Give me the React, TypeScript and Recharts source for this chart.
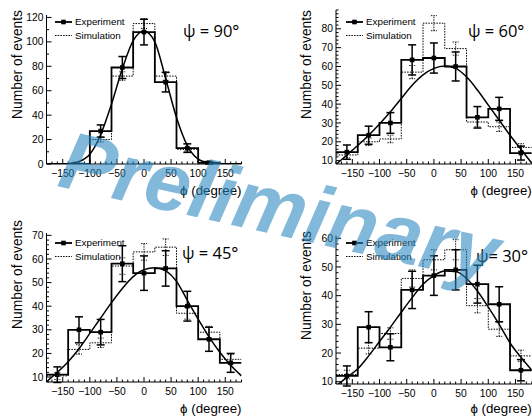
import React from 'react';
import { ComposedChart, Line, Scatter, ErrorBar, XAxis, YAxis, Legend } from 'recharts';

// binning and axis ticks
const BIN_EDGES = [-180, -140, -100, -60, -20, 20, 60, 100, 140, 180];
const BIN_CENTERS = [-160, -120, -80, -40, 0, 40, 80, 120, 160];
const FIT_PHI = [-180, -160, -140, -120, -100, -80, -60, -40, -20, 0, 20, 40, 60, 80, 100, 120, 140, 160, 180];
const X_LABELS = [-150, -100, -50, 0, 50, 100, 150];

// psi = 90
const EXP_90 = [0, 0, 27, 79, 108, 67, 13, 1, 0];
const EXP_ERR_90 = [0, 0, 5, 9, 10.5, 8, 3.5, 1, 0];
const SIM_90 = [0, 0, 20, 72, 115, 72, 12, 1, 0];
const SIM_ERR_90 = [0, 0, 2, 3.5, 4, 3.5, 1.5, 0.5, 0];
const FIT_90 = [null, null, 0.2, 2, 8, 24, 49, 78, 101, 109, 100, 70, 38, 15, 4, 1, 0.2, null, null];
const Y_LABELS_90 = [0, 20, 40, 60, 80, 100, 120];

// psi = 60
const EXP_60 = [14.5, 23.5, 30, 63.5, 64.5, 60, 33, 37.5, 14];
const EXP_ERR_60 = [3.8, 4.8, 5.5, 8, 8, 7.7, 5.7, 6.1, 3.7];
const SIM_60 = [13, 20, 21.5, 57, 83, 69.5, 30.5, 28, 17];
const SIM_ERR_60 = [1.5, 2, 2, 3.5, 4, 3.5, 2.5, 2.5, 2];
const FIT_60 = [8, 13, 18, 23.5, 29.5, 36, 43, 50, 55.5, 59, 60.3, 59, 54.5, 47.5, 39.5, 31.5, 23.5, 16, 8.6];
const Y_LABELS_60 = [10, 20, 30, 40, 50, 60, 70, 80];

// psi = 45
const EXP_45 = [11, 30, 29, 58, 54, 56, 40, 26, 16];
const EXP_ERR_45 = [3.3, 5.5, 5.4, 7.6, 7.3, 7.5, 6.3, 5.1, 4];
const SIM_45 = [10.5, 21.7, 24.5, 57, 63, 65, 37, 29, 17.5];
const SIM_ERR_45 = [1.5, 2, 2, 3.5, 3.5, 3.5, 2.5, 2.5, 2];
const FIT_45 = [8, 12, 16.5, 22, 28.5, 35, 41.5, 47.5, 52.5, 55.5, 56.3, 55, 50.5, 42.5, 34.5, 27, 20.5, 15, 10.5];
const Y_LABELS_45 = [10, 20, 30, 40, 50, 60, 70];

// psi = 30
const EXP_30 = [12, 29, 22, 42, 47, 49, 44, 37, 14];
const EXP_ERR_30 = [3.5, 5.4, 4.7, 6.5, 6.9, 7, 6.6, 6.1, 3.7];
const SIM_30 = [12.5, 21.7, 26.8, 46, 52.5, 56, 36.5, 28.3, 19];
const SIM_ERR_30 = [1.5, 2, 2, 3, 3.5, 3.5, 2.5, 2.5, 2];
const FIT_30 = [8.5, 11.5, 14.5, 19, 24, 29, 34.2, 39.3, 44, 47, 48.6, 48.4, 46, 41.6, 36, 30, 23.5, 18.5, 14];
const Y_LABELS_30 = [10, 20, 30, 40, 50, 60];

const FONT = '"Liberation Sans", Arial, sans-serif';

const range = (a: number, b: number, s: number) => {
  const out: number[] = [];
  for (let v = a; v <= b + 1e-9; v += s) out.push(Math.round(v * 1000) / 1000);
  return out;
};

const histData = (vals: number[]) =>
  BIN_EDGES.map((x, i) => ({ x, y: vals[Math.min(i, vals.length - 1)] }));
const pointData = (vals: number[], errs: number[]) =>
  BIN_CENTERS.map((x, i) => ({ x, y: vals[i], err: errs[i] })).filter((d) => d.y > 0);
const fitData = (vals: (number | null)[]) => FIT_PHI.map((x, i) => ({ x, y: vals[i] }));

const fmt = (v: number) => String(v).replace('-', '\u2212');

// ROOT-like ticks: drawn inwards, long for labelled values
const makeTick = (side: string, labels: number[]) => (props: any) => {
  const { x, y, payload } = props;
  const v = payload.value;
  const major = labels.some((l) => Math.abs(l - v) < 1e-6);
  const len = major ? 5 : 2.5;
  const st = { stroke: '#000', strokeWidth: 1 };
  if (side === 'bottom')
    return (
      <g>
        <line x1={x} y1={y} x2={x} y2={y - len} {...st} />
        {major && (
          <text x={x} y={y + 12.5} textAnchor="middle" fontSize={10.3} fontFamily={FONT} fill="#000">
            {fmt(v)}
          </text>
        )}
      </g>
    );
  if (side === 'top') return <line x1={x} y1={y} x2={x} y2={y + len} {...st} />;
  if (side === 'left')
    return (
      <g>
        <line x1={x} y1={y} x2={x + len} y2={y} {...st} />
        {major && (
          <text x={x - 3} y={y + 3.6} textAnchor="end" fontSize={10.3} fontFamily={FONT} fill="#000">
            {fmt(v)}
          </text>
        )}
      </g>
    );
  return <line x1={x} y1={y} x2={x - len} y2={y} {...st} />;
};

const Square = (p: any) => <rect x={p.cx - 2.3} y={p.cy - 2.3} width={4.6} height={4.6} fill="#000" />;
const NoShape = () => <g />;

const LegendBox = () => (
  <svg width={80} height={30} style={{ display: 'block' }}>
    <line x1={0} y1={6} x2={17} y2={6} stroke="#000" strokeWidth={1.8} />
    <rect x={6.2} y={3.7} width={4.6} height={4.6} fill="#000" />
    <text x={20} y={9.3} fontSize={9.8} fontFamily={FONT} fill="#000">Experiment</text>
    <line x1={0} y1={19.5} x2={17} y2={19.5} stroke="#000" strokeWidth={1} strokeDasharray="1.5 1.2" />
    <text x={20} y={22.8} fontSize={9.8} fontFamily={FONT} fill="#000">Simulation</text>
  </svg>
);

type PanelProps = {
  left: number; top: number; width: number; height: number;
  margin: { top: number; left: number; right: number; bottom: number };
  yDomain: [number, number]; yTicks: number[]; yLabels: number[];
  exp: number[]; expErr: number[]; sim: number[]; simErr: number[]; fit: (number | null)[];
  psi: string; psiPos: { left: number; top: number };
  legendPos: { left: number; top: number };
  yTitleTop: number; xTitleDy: number;
};

const Panel = (p: PanelProps) => {
  const plotLeft = p.margin.left + 46;
  const plotRight = p.width - p.margin.right;
  const plotBottom = p.height - p.margin.bottom - 30;
  const xTicks = range(-180, 180, 10);
  return (
    <div style={{ position: 'absolute', left: p.left, top: p.top, width: p.width, height: p.height }}>
      <ComposedChart width={p.width} height={p.height} margin={p.margin}>
        <XAxis
          xAxisId="b" dataKey="x" type="number" domain={[-180, 180]} allowDataOverflow
          ticks={xTicks} interval={0} tickSize={0} tickMargin={0} height={30}
          axisLine={{ stroke: '#000', strokeWidth: 1 }} tickLine={false}
          tick={makeTick('bottom', X_LABELS)}
          label={{
            content: () => (
              <text x={plotRight} y={plotBottom + p.xTitleDy} textAnchor="end" fontSize={13.3} fontFamily={FONT} fill="#000">
                {'\u03D5 (degree)'}
              </text>
            ),
          }}
        />
        <XAxis
          xAxisId="t" orientation="top" dataKey="x" type="number" domain={[-180, 180]} allowDataOverflow
          ticks={xTicks} interval={0} tickSize={0} tickMargin={0} height={0}
          axisLine={{ stroke: '#000', strokeWidth: 1 }} tickLine={false} tick={makeTick('top', X_LABELS)}
        />
        <YAxis
          yAxisId="l" type="number" domain={p.yDomain} allowDataOverflow ticks={p.yTicks} interval={0}
          tickSize={0} tickMargin={0} width={46} axisLine={{ stroke: '#000', strokeWidth: 1 }} tickLine={false}
          tick={makeTick('left', p.yLabels)}
          label={{
            content: () => (
              <text
                x={plotLeft - 25} y={p.yTitleTop} textAnchor="end" fontSize={13.8} fontFamily={FONT} fill="#000"
                transform={`rotate(-90 ${plotLeft - 25} ${p.yTitleTop})`}
              >
                Number of events
              </text>
            ),
          }}
        />
        <YAxis
          yAxisId="r" orientation="right" type="number" domain={p.yDomain} allowDataOverflow ticks={p.yTicks}
          interval={0} tickSize={0} tickMargin={0} width={0} axisLine={{ stroke: '#000', strokeWidth: 1 }}
          tickLine={false} tick={makeTick('right', p.yLabels)}
        />
        <Legend
          layout="horizontal" verticalAlign="middle" align="center"
          wrapperStyle={{ position: 'absolute', left: p.legendPos.left, top: p.legendPos.top, width: 80, height: 30 }}
          content={() => <LegendBox />}
        />
        <Line
          xAxisId="b" yAxisId="l" data={histData(p.sim)} dataKey="y" type="stepAfter" dot={false}
          stroke="#000" strokeWidth={1} strokeDasharray="1.5 1.2" isAnimationActive={false}
        />
        <Line
          xAxisId="b" yAxisId="l" data={histData(p.exp)} dataKey="y" type="stepAfter" dot={false}
          stroke="#000" strokeWidth={1.8} isAnimationActive={false}
        />
        <Line
          xAxisId="b" yAxisId="l" data={fitData(p.fit)} dataKey="y" type="monotone" dot={false}
          stroke="#000" strokeWidth={1.5} isAnimationActive={false}
        />
        <Scatter xAxisId="b" yAxisId="l" data={pointData(p.sim, p.simErr)} dataKey="y" shape={NoShape} isAnimationActive={false}>
          <ErrorBar dataKey="err" direction="y" width={3} stroke="#000" strokeWidth={0.9} strokeDasharray="1.5 1" />
        </Scatter>
        <Scatter xAxisId="b" yAxisId="l" data={pointData(p.exp, p.expErr)} dataKey="y" shape={Square} isAnimationActive={false}>
          <ErrorBar dataKey="err" direction="y" width={4} stroke="#000" strokeWidth={1.5} />
        </Scatter>
      </ComposedChart>
      <div
        style={{
          position: 'absolute', left: p.psiPos.left, top: p.psiPos.top, fontFamily: '"Open Sans", sans-serif',
          fontSize: 16.5, lineHeight: '18px', color: '#000', whiteSpace: 'nowrap',
        }}
      >
        {p.psi}
      </div>
    </div>
  );
};

export default function App() {
  return (
    <div style={{ position: 'absolute', left: 0, top: 0, width: 532, height: 416, overflow: 'hidden', background: '#fff' }}>
      <Panel
        left={0} top={0} width={266} height={208}
        margin={{ top: 15, left: 0.5, right: 24.5, bottom: 14 }}
        yDomain={[0, 122]} yTicks={range(0, 120, 10)} yLabels={Y_LABELS_90}
        exp={EXP_90} expErr={EXP_ERR_90} sim={SIM_90} simErr={SIM_ERR_90} fit={FIT_90}
        psi={'\u03C8 = 90\u00B0'} psiPos={{ left: 183, top: 22 }} legendPos={{ left: 55, top: 15.5 }}
        yTitleTop={10} xTitleDy={30.5}
      />
      <Panel
        left={266} top={0} width={280} height={208}
        margin={{ top: 10, left: 24, right: 14.2, bottom: 14 }}
        yDomain={[8.2, 90]} yTicks={range(10, 90, 2)} yLabels={Y_LABELS_60}
        exp={EXP_60} expErr={EXP_ERR_60} sim={SIM_60} simErr={SIM_ERR_60} fit={FIT_60}
        psi={'\u03C8 = 60\u00B0'} psiPos={{ left: 202, top: 22 }} legendPos={{ left: 80, top: 15.7 }}
        yTitleTop={10} xTitleDy={30.5}
      />
      <Panel
        left={0} top={208} width={266} height={208}
        margin={{ top: 25, left: 0.5, right: 24.5, bottom: 4 }}
        yDomain={[7.9, 71]} yTicks={range(8, 70, 2)} yLabels={Y_LABELS_45}
        exp={EXP_45} expErr={EXP_ERR_45} sim={SIM_45} simErr={SIM_ERR_45} fit={FIT_45}
        psi={'\u03C8 = 45\u00B0'} psiPos={{ left: 182, top: 36 }} legendPos={{ left: 55, top: 29 }}
        yTitleTop={12} xTitleDy={30.5}
      />
      <Panel
        left={266} top={208} width={280} height={208}
        margin={{ top: 27.7, left: 24, right: 14.2, bottom: 2 }}
        yDomain={[9.2, 60.9]} yTicks={range(10, 60, 2)} yLabels={Y_LABELS_30}
        exp={EXP_30} expErr={EXP_ERR_30} sim={SIM_30} simErr={SIM_ERR_30} fit={FIT_30}
        psi={'\u03C8= 30\u00B0'} psiPos={{ left: 210, top: 39 }} legendPos={{ left: 80, top: 29 }}
        yTitleTop={23} xTitleDy={29}
      />
      <svg width={532} height={416} style={{ position: 'absolute', left: 0, top: 0, pointerEvents: 'none' }}>
        <text
          x={56} y={186} transform="rotate(12.5 56 186)" fontSize={82} fontWeight="bold" fontStyle="italic"
          fontFamily={FONT} fill="rgb(40,135,192)" fillOpacity={0.58}
        >
          Preliminary
        </text>
      </svg>
    </div>
  );
}
